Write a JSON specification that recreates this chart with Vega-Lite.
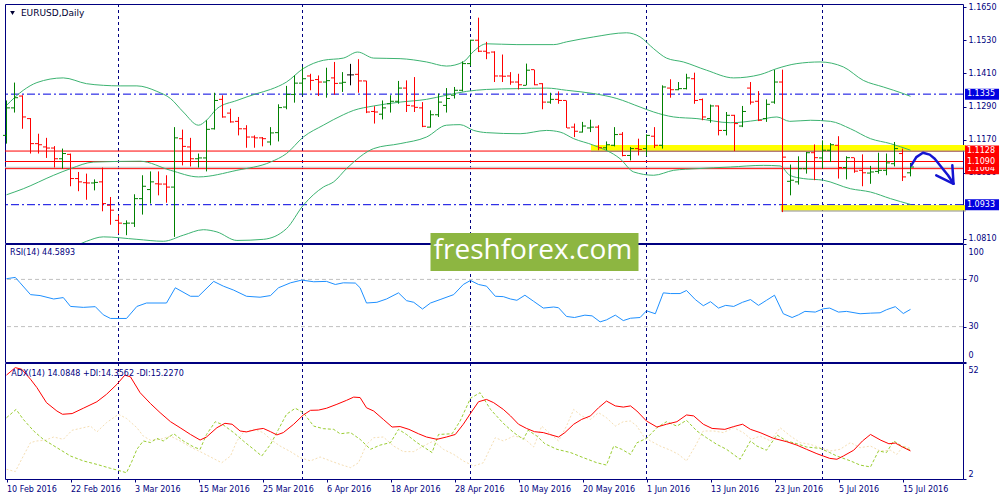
{
  "$schema": "https://vega.github.io/schema/vega-lite/v6.json",
  "description": "EURUSD daily bars with Bollinger bands, RSI(14) and ADX(14) panels.",
  "background": "white",
  "padding": {"left": 2, "top": 2, "right": 0, "bottom": 0},
  "bounds": "flush",
  "spacing": 1,
  "config": {
    "view": {"stroke": "#000080", "strokeWidth": 1},
    "axis": {"labelFont": "DejaVu Sans", "labelFontSize": 8, "labelColor": "#000080", "tickColor": "#000080", "tickSize": 3, "labelPadding": 2, "labelOverlap": false, "labelFlush": false, "labelBound": false, "domain": false, "grid": false},
    "text": {"font": "DejaVu Sans"}
  },
  "datasets": {
    "bars": [
      {"d": "2016-02-10", "i": 0, "o": 1.1185, "h": 1.1312, "l": 1.1155, "c": 1.1285},
      {"d": "2016-02-11", "i": 1, "o": 1.1285, "h": 1.1377, "l": 1.1268, "c": 1.1322},
      {"d": "2016-02-12", "i": 2, "o": 1.1328, "h": 1.1331, "l": 1.1209, "c": 1.1252},
      {"d": "2016-02-15", "i": 3, "o": 1.1246, "h": 1.1248, "l": 1.1119, "c": 1.1155},
      {"d": "2016-02-16", "i": 4, "o": 1.1155, "h": 1.1191, "l": 1.1119, "c": 1.1151},
      {"d": "2016-02-17", "i": 5, "o": 1.1143, "h": 1.1176, "l": 1.1103, "c": 1.1139},
      {"d": "2016-02-18", "i": 6, "o": 1.1139, "h": 1.1146, "l": 1.1068, "c": 1.1100},
      {"d": "2016-02-19", "i": 7, "o": 1.1100, "h": 1.1137, "l": 1.1064, "c": 1.1119},
      {"d": "2016-02-22", "i": 8, "o": 1.1116, "h": 1.1119, "l": 1.1000, "c": 1.1028},
      {"d": "2016-02-23", "i": 9, "o": 1.1028, "h": 1.1052, "l": 1.0982, "c": 1.1016},
      {"d": "2016-02-24", "i": 10, "o": 1.1013, "h": 1.1046, "l": 1.0951, "c": 1.1012},
      {"d": "2016-02-25", "i": 11, "o": 1.1012, "h": 1.1025, "l": 1.0985, "c": 1.1014},
      {"d": "2016-02-26", "i": 12, "o": 1.1016, "h": 1.1068, "l": 1.0909, "c": 1.0937},
      {"d": "2016-02-29", "i": 13, "o": 1.0931, "h": 1.0961, "l": 1.0860, "c": 1.0913},
      {"d": "2016-03-01", "i": 14, "o": 1.0876, "h": 1.0894, "l": 1.0828, "c": 1.0866},
      {"d": "2016-03-02", "i": 15, "o": 1.0864, "h": 1.0876, "l": 1.0822, "c": 1.0866},
      {"d": "2016-03-03", "i": 16, "o": 1.0866, "h": 1.0971, "l": 1.0852, "c": 1.0955},
      {"d": "2016-03-04", "i": 17, "o": 1.0955, "h": 1.1040, "l": 1.0897, "c": 1.1000},
      {"d": "2016-03-07", "i": 18, "o": 1.0988, "h": 1.1054, "l": 1.0937, "c": 1.1016},
      {"d": "2016-03-08", "i": 19, "o": 1.1009, "h": 1.1054, "l": 1.0967, "c": 1.1008},
      {"d": "2016-03-09", "i": 20, "o": 1.1008, "h": 1.1040, "l": 1.0940, "c": 1.0997},
      {"d": "2016-03-10", "i": 21, "o": 1.0997, "h": 1.1215, "l": 1.0816, "c": 1.1176},
      {"d": "2016-03-11", "i": 22, "o": 1.1173, "h": 1.1206, "l": 1.1076, "c": 1.1145},
      {"d": "2016-03-14", "i": 23, "o": 1.1143, "h": 1.1176, "l": 1.1072, "c": 1.1100},
      {"d": "2016-03-15", "i": 24, "o": 1.1100, "h": 1.1119, "l": 1.1068, "c": 1.1103},
      {"d": "2016-03-16", "i": 25, "o": 1.1103, "h": 1.1240, "l": 1.1054, "c": 1.1207},
      {"d": "2016-03-17", "i": 26, "o": 1.1209, "h": 1.1340, "l": 1.1206, "c": 1.1312},
      {"d": "2016-03-18", "i": 27, "o": 1.1316, "h": 1.1331, "l": 1.1249, "c": 1.1252},
      {"d": "2016-03-21", "i": 28, "o": 1.1266, "h": 1.1282, "l": 1.1231, "c": 1.1234},
      {"d": "2016-03-22", "i": 29, "o": 1.1236, "h": 1.1252, "l": 1.1185, "c": 1.1209},
      {"d": "2016-03-23", "i": 30, "o": 1.1209, "h": 1.1222, "l": 1.1140, "c": 1.1179},
      {"d": "2016-03-24", "i": 31, "o": 1.1179, "h": 1.1185, "l": 1.1140, "c": 1.1176},
      {"d": "2016-03-25", "i": 32, "o": 1.1176, "h": 1.1179, "l": 1.1145, "c": 1.1173},
      {"d": "2016-03-28", "i": 33, "o": 1.1161, "h": 1.1215, "l": 1.1149, "c": 1.1194},
      {"d": "2016-03-29", "i": 34, "o": 1.1195, "h": 1.1298, "l": 1.1163, "c": 1.1286},
      {"d": "2016-03-30", "i": 35, "o": 1.1288, "h": 1.1365, "l": 1.1280, "c": 1.1334},
      {"d": "2016-03-31", "i": 36, "o": 1.1334, "h": 1.1403, "l": 1.1304, "c": 1.1375},
      {"d": "2016-04-01", "i": 37, "o": 1.1375, "h": 1.1434, "l": 1.1331, "c": 1.1391},
      {"d": "2016-04-04", "i": 38, "o": 1.1401, "h": 1.1409, "l": 1.1349, "c": 1.1385},
      {"d": "2016-04-05", "i": 39, "o": 1.1388, "h": 1.1403, "l": 1.1328, "c": 1.1379},
      {"d": "2016-04-06", "i": 40, "o": 1.1379, "h": 1.1431, "l": 1.1322, "c": 1.1384},
      {"d": "2016-04-07", "i": 41, "o": 1.1394, "h": 1.1452, "l": 1.1333, "c": 1.1374},
      {"d": "2016-04-08", "i": 42, "o": 1.1375, "h": 1.1415, "l": 1.1343, "c": 1.1378},
      {"d": "2016-04-11", "i": 43, "o": 1.1405, "h": 1.1445, "l": 1.1367, "c": 1.1405},
      {"d": "2016-04-12", "i": 44, "o": 1.1407, "h": 1.1462, "l": 1.1340, "c": 1.1383},
      {"d": "2016-04-13", "i": 45, "o": 1.1383, "h": 1.1384, "l": 1.1266, "c": 1.1270},
      {"d": "2016-04-14", "i": 46, "o": 1.1272, "h": 1.1291, "l": 1.1228, "c": 1.1270},
      {"d": "2016-04-15", "i": 47, "o": 1.1262, "h": 1.1312, "l": 1.1243, "c": 1.1285},
      {"d": "2016-04-18", "i": 48, "o": 1.1300, "h": 1.1331, "l": 1.1268, "c": 1.1309},
      {"d": "2016-04-19", "i": 49, "o": 1.1309, "h": 1.1383, "l": 1.1300, "c": 1.1357},
      {"d": "2016-04-20", "i": 50, "o": 1.1357, "h": 1.1385, "l": 1.1270, "c": 1.1294},
      {"d": "2016-04-21", "i": 51, "o": 1.1292, "h": 1.1397, "l": 1.1270, "c": 1.1287},
      {"d": "2016-04-22", "i": 52, "o": 1.1285, "h": 1.1306, "l": 1.1215, "c": 1.1218},
      {"d": "2016-04-25", "i": 53, "o": 1.1215, "h": 1.1276, "l": 1.1213, "c": 1.1260},
      {"d": "2016-04-26", "i": 54, "o": 1.1260, "h": 1.1337, "l": 1.1252, "c": 1.1306},
      {"d": "2016-04-27", "i": 55, "o": 1.1294, "h": 1.1357, "l": 1.1268, "c": 1.1319},
      {"d": "2016-04-28", "i": 56, "o": 1.1331, "h": 1.1361, "l": 1.1319, "c": 1.1349},
      {"d": "2016-04-29", "i": 57, "o": 1.1349, "h": 1.1454, "l": 1.1345, "c": 1.1446},
      {"d": "2016-05-02", "i": 58, "o": 1.1446, "h": 1.1533, "l": 1.1437, "c": 1.1531},
      {"d": "2016-05-03", "i": 59, "o": 1.1531, "h": 1.1613, "l": 1.1488, "c": 1.1491},
      {"d": "2016-05-04", "i": 60, "o": 1.1491, "h": 1.1525, "l": 1.1462, "c": 1.1485},
      {"d": "2016-05-05", "i": 61, "o": 1.1488, "h": 1.1491, "l": 1.1379, "c": 1.1401},
      {"d": "2016-05-06", "i": 62, "o": 1.1401, "h": 1.1479, "l": 1.1379, "c": 1.1400},
      {"d": "2016-05-09", "i": 63, "o": 1.1401, "h": 1.1415, "l": 1.1369, "c": 1.1379},
      {"d": "2016-05-10", "i": 64, "o": 1.1379, "h": 1.1409, "l": 1.1352, "c": 1.1369},
      {"d": "2016-05-11", "i": 65, "o": 1.1367, "h": 1.1446, "l": 1.1367, "c": 1.1422},
      {"d": "2016-05-12", "i": 66, "o": 1.1424, "h": 1.1424, "l": 1.1367, "c": 1.1369},
      {"d": "2016-05-13", "i": 67, "o": 1.1373, "h": 1.1375, "l": 1.1280, "c": 1.1306},
      {"d": "2016-05-16", "i": 68, "o": 1.1306, "h": 1.1340, "l": 1.1300, "c": 1.1316},
      {"d": "2016-05-17", "i": 69, "o": 1.1316, "h": 1.1345, "l": 1.1300, "c": 1.1312},
      {"d": "2016-05-18", "i": 70, "o": 1.1312, "h": 1.1312, "l": 1.1212, "c": 1.1212},
      {"d": "2016-05-19", "i": 71, "o": 1.1215, "h": 1.1228, "l": 1.1179, "c": 1.1200},
      {"d": "2016-05-20", "i": 72, "o": 1.1197, "h": 1.1234, "l": 1.1195, "c": 1.1219},
      {"d": "2016-05-23", "i": 73, "o": 1.1212, "h": 1.1242, "l": 1.1197, "c": 1.1215},
      {"d": "2016-05-24", "i": 74, "o": 1.1215, "h": 1.1222, "l": 1.1131, "c": 1.1140},
      {"d": "2016-05-25", "i": 75, "o": 1.1140, "h": 1.1163, "l": 1.1131, "c": 1.1151},
      {"d": "2016-05-26", "i": 76, "o": 1.1149, "h": 1.1215, "l": 1.1145, "c": 1.1188},
      {"d": "2016-05-27", "i": 77, "o": 1.1189, "h": 1.1197, "l": 1.1109, "c": 1.1112},
      {"d": "2016-05-30", "i": 78, "o": 1.1112, "h": 1.1143, "l": 1.1094, "c": 1.1137},
      {"d": "2016-05-31", "i": 79, "o": 1.1137, "h": 1.1173, "l": 1.1112, "c": 1.1134},
      {"d": "2016-06-01", "i": 80, "o": 1.1137, "h": 1.1189, "l": 1.1110, "c": 1.1185},
      {"d": "2016-06-02", "i": 81, "o": 1.1182, "h": 1.1215, "l": 1.1139, "c": 1.1149},
      {"d": "2016-06-03", "i": 82, "o": 1.1149, "h": 1.1367, "l": 1.1137, "c": 1.1361},
      {"d": "2016-06-06", "i": 83, "o": 1.1357, "h": 1.1389, "l": 1.1322, "c": 1.1351},
      {"d": "2016-06-07", "i": 84, "o": 1.1351, "h": 1.1379, "l": 1.1349, "c": 1.1355},
      {"d": "2016-06-08", "i": 85, "o": 1.1355, "h": 1.1409, "l": 1.1352, "c": 1.1394},
      {"d": "2016-06-09", "i": 86, "o": 1.1391, "h": 1.1413, "l": 1.1300, "c": 1.1312},
      {"d": "2016-06-10", "i": 87, "o": 1.1315, "h": 1.1319, "l": 1.1240, "c": 1.1252},
      {"d": "2016-06-13", "i": 88, "o": 1.1246, "h": 1.1297, "l": 1.1231, "c": 1.1292},
      {"d": "2016-06-14", "i": 89, "o": 1.1292, "h": 1.1294, "l": 1.1185, "c": 1.1203},
      {"d": "2016-06-15", "i": 90, "o": 1.1203, "h": 1.1270, "l": 1.1185, "c": 1.1258},
      {"d": "2016-06-16", "i": 91, "o": 1.1258, "h": 1.1260, "l": 1.1128, "c": 1.1228},
      {"d": "2016-06-17", "i": 92, "o": 1.1219, "h": 1.1292, "l": 1.1215, "c": 1.1272},
      {"d": "2016-06-20", "i": 93, "o": 1.1357, "h": 1.1379, "l": 1.1297, "c": 1.1306},
      {"d": "2016-06-21", "i": 94, "o": 1.1309, "h": 1.1346, "l": 1.1237, "c": 1.1240},
      {"d": "2016-06-22", "i": 95, "o": 1.1246, "h": 1.1316, "l": 1.1234, "c": 1.1298},
      {"d": "2016-06-23", "i": 96, "o": 1.1306, "h": 1.1423, "l": 1.1300, "c": 1.1379},
      {"d": "2016-06-24", "i": 97, "o": 1.1379, "h": 1.1424, "l": 1.0906, "c": 1.1106},
      {"d": "2016-06-27", "i": 98, "o": 1.1018, "h": 1.1079, "l": 1.0967, "c": 1.1022},
      {"d": "2016-06-28", "i": 99, "o": 1.1016, "h": 1.1109, "l": 1.1006, "c": 1.1064},
      {"d": "2016-06-29", "i": 100, "o": 1.1064, "h": 1.1125, "l": 1.1046, "c": 1.1122},
      {"d": "2016-06-30", "i": 101, "o": 1.1122, "h": 1.1152, "l": 1.1022, "c": 1.1104},
      {"d": "2016-07-01", "i": 102, "o": 1.1103, "h": 1.1167, "l": 1.1064, "c": 1.1131},
      {"d": "2016-07-04", "i": 103, "o": 1.1131, "h": 1.1157, "l": 1.1088, "c": 1.1151},
      {"d": "2016-07-05", "i": 104, "o": 1.1149, "h": 1.1182, "l": 1.1028, "c": 1.1068},
      {"d": "2016-07-06", "i": 105, "o": 1.1068, "h": 1.1109, "l": 1.1025, "c": 1.1104},
      {"d": "2016-07-07", "i": 106, "o": 1.1104, "h": 1.1104, "l": 1.1049, "c": 1.1055},
      {"d": "2016-07-08", "i": 107, "o": 1.1058, "h": 1.1116, "l": 1.1000, "c": 1.1049},
      {"d": "2016-07-11", "i": 108, "o": 1.1048, "h": 1.1074, "l": 1.1009, "c": 1.1052},
      {"d": "2016-07-12", "i": 109, "o": 1.1054, "h": 1.1122, "l": 1.1046, "c": 1.1058},
      {"d": "2016-07-13", "i": 110, "o": 1.1058, "h": 1.1119, "l": 1.1040, "c": 1.1085},
      {"d": "2016-07-14", "i": 111, "o": 1.1082, "h": 1.1161, "l": 1.1072, "c": 1.1137},
      {"d": "2016-07-15", "i": 112, "o": 1.1119, "h": 1.1137, "l": 1.1019, "c": 1.1034},
      {"d": "2016-07-18", "i": 113, "o": 1.1049, "h": 1.1085, "l": 1.1036, "c": 1.1070}
    ],
    "bands": [
      {"band": "upper", "i": 0, "p": 1.1294}, {"band": "upper", "i": 2.1, "p": 1.1349}, {"band": "upper", "i": 3.8, "p": 1.1377},
      {"band": "upper", "i": 7.1, "p": 1.1394}, {"band": "upper", "i": 10, "p": 1.1373}, {"band": "upper", "i": 12.1, "p": 1.1367},
      {"band": "upper", "i": 14.2, "p": 1.1365}, {"band": "upper", "i": 16.3, "p": 1.1365}, {"band": "upper", "i": 18.8, "p": 1.1345},
      {"band": "upper", "i": 20.5, "p": 1.1319}, {"band": "upper", "i": 22.1, "p": 1.127}, {"band": "upper", "i": 24, "p": 1.1222},
      {"band": "upper", "i": 25, "p": 1.124}, {"band": "upper", "i": 26.3, "p": 1.1282}, {"band": "upper", "i": 28.8, "p": 1.1312},
      {"band": "upper", "i": 31.3, "p": 1.1337}, {"band": "upper", "i": 33, "p": 1.1352}, {"band": "upper", "i": 35, "p": 1.1379},
      {"band": "upper", "i": 37.1, "p": 1.1428}, {"band": "upper", "i": 39.6, "p": 1.1458}, {"band": "upper", "i": 42.1, "p": 1.1466},
      {"band": "upper", "i": 43.9, "p": 1.1488}, {"band": "upper", "i": 45.9, "p": 1.1466}, {"band": "upper", "i": 49.2, "p": 1.1464},
      {"band": "upper", "i": 52.5, "p": 1.1452}, {"band": "upper", "i": 55, "p": 1.1437}, {"band": "upper", "i": 57.1, "p": 1.1452},
      {"band": "upper", "i": 58.4, "p": 1.1491}, {"band": "upper", "i": 60, "p": 1.1518}, {"band": "upper", "i": 63.8, "p": 1.1515},
      {"band": "upper", "i": 68.4, "p": 1.1515}, {"band": "upper", "i": 70, "p": 1.1525}, {"band": "upper", "i": 73.4, "p": 1.1543},
      {"band": "upper", "i": 77.5, "p": 1.1558}, {"band": "upper", "i": 79.2, "p": 1.1543}, {"band": "upper", "i": 80.9, "p": 1.15},
      {"band": "upper", "i": 82.5, "p": 1.1466}, {"band": "upper", "i": 84.6, "p": 1.1452}, {"band": "upper", "i": 87.5, "p": 1.1422},
      {"band": "upper", "i": 90.9, "p": 1.1394}, {"band": "upper", "i": 94.2, "p": 1.1406}, {"band": "upper", "i": 96.3, "p": 1.1428},
      {"band": "upper", "i": 98.8, "p": 1.1446}, {"band": "upper", "i": 101.7, "p": 1.1452}, {"band": "upper", "i": 104.6, "p": 1.1434},
      {"band": "upper", "i": 107.1, "p": 1.1385}, {"band": "upper", "i": 109.6, "p": 1.1361}, {"band": "upper", "i": 112.1, "p": 1.1337},
      {"band": "upper", "i": 113, "p": 1.1327},
      {"band": "middle", "i": 0, "p": 1.0969}, {"band": "middle", "i": 2.1, "p": 1.0991}, {"band": "middle", "i": 5.9, "p": 1.104},
      {"band": "middle", "i": 8, "p": 1.1064}, {"band": "middle", "i": 10.9, "p": 1.1088}, {"band": "middle", "i": 16.7, "p": 1.1091},
      {"band": "middle", "i": 20.5, "p": 1.1058}, {"band": "middle", "i": 24, "p": 1.1034}, {"band": "middle", "i": 28.8, "p": 1.1058},
      {"band": "middle", "i": 33, "p": 1.1088}, {"band": "middle", "i": 35, "p": 1.1119}, {"band": "middle", "i": 37.1, "p": 1.1179},
      {"band": "middle", "i": 39.6, "p": 1.1222}, {"band": "middle", "i": 42.1, "p": 1.126}, {"band": "middle", "i": 43.4, "p": 1.1276},
      {"band": "middle", "i": 45.9, "p": 1.1292}, {"band": "middle", "i": 49.2, "p": 1.1306}, {"band": "middle", "i": 52.5, "p": 1.1316},
      {"band": "middle", "i": 55, "p": 1.1331}, {"band": "middle", "i": 57.5, "p": 1.1345}, {"band": "middle", "i": 60, "p": 1.1352},
      {"band": "middle", "i": 63.8, "p": 1.1355}, {"band": "middle", "i": 67.5, "p": 1.1357}, {"band": "middle", "i": 70, "p": 1.1349},
      {"band": "middle", "i": 73.4, "p": 1.1337}, {"band": "middle", "i": 76.3, "p": 1.1319}, {"band": "middle", "i": 79.2, "p": 1.1288},
      {"band": "middle", "i": 80.9, "p": 1.127}, {"band": "middle", "i": 83.4, "p": 1.1252}, {"band": "middle", "i": 86.3, "p": 1.1246},
      {"band": "middle", "i": 90.5, "p": 1.1231}, {"band": "middle", "i": 93.8, "p": 1.124}, {"band": "middle", "i": 96.3, "p": 1.1252},
      {"band": "middle", "i": 97.9, "p": 1.1236}, {"band": "middle", "i": 100.5, "p": 1.124}, {"band": "middle", "i": 103, "p": 1.1236},
      {"band": "middle", "i": 105.5, "p": 1.1209}, {"band": "middle", "i": 108, "p": 1.1173}, {"band": "middle", "i": 110.5, "p": 1.1155},
      {"band": "middle", "i": 113, "p": 1.1131},
      {"band": "lower", "i": 0, "p": 1.07}, {"band": "lower", "i": 4, "p": 1.073}, {"band": "lower", "i": 8, "p": 1.0775},
      {"band": "lower", "i": 10, "p": 1.08}, {"band": "lower", "i": 12.1, "p": 1.0816}, {"band": "lower", "i": 16.3, "p": 1.0807},
      {"band": "lower", "i": 19.6, "p": 1.08}, {"band": "lower", "i": 22.1, "p": 1.0822}, {"band": "lower", "i": 24.6, "p": 1.0842},
      {"band": "lower", "i": 26.3, "p": 1.0834}, {"band": "lower", "i": 28.8, "p": 1.0803}, {"band": "lower", "i": 32.1, "p": 1.0807},
      {"band": "lower", "i": 35, "p": 1.0846}, {"band": "lower", "i": 37.1, "p": 1.0931}, {"band": "lower", "i": 39.6, "p": 1.0997},
      {"band": "lower", "i": 40.9, "p": 1.1016}, {"band": "lower", "i": 42.5, "p": 1.1064}, {"band": "lower", "i": 45.9, "p": 1.1137},
      {"band": "lower", "i": 49.2, "p": 1.1155}, {"band": "lower", "i": 52.5, "p": 1.1179}, {"band": "lower", "i": 55, "p": 1.1222},
      {"band": "lower", "i": 56.7, "p": 1.1224}, {"band": "lower", "i": 58.4, "p": 1.1203}, {"band": "lower", "i": 60, "p": 1.1195},
      {"band": "lower", "i": 64.2, "p": 1.1191}, {"band": "lower", "i": 67.5, "p": 1.1203}, {"band": "lower", "i": 69.2, "p": 1.1197},
      {"band": "lower", "i": 70.9, "p": 1.1173}, {"band": "lower", "i": 73.4, "p": 1.1149}, {"band": "lower", "i": 76.7, "p": 1.11},
      {"band": "lower", "i": 78.4, "p": 1.1052}, {"band": "lower", "i": 80.9, "p": 1.104}, {"band": "lower", "i": 83.4, "p": 1.1058},
      {"band": "lower", "i": 86.3, "p": 1.1064}, {"band": "lower", "i": 90.5, "p": 1.107}, {"band": "lower", "i": 94.6, "p": 1.1076},
      {"band": "lower", "i": 96.7, "p": 1.1074}, {"band": "lower", "i": 97.9, "p": 1.104}, {"band": "lower", "i": 99.6, "p": 1.1028},
      {"band": "lower", "i": 102.1, "p": 1.1022}, {"band": "lower", "i": 105.5, "p": 1.0991}, {"band": "lower", "i": 108, "p": 1.0979},
      {"band": "lower", "i": 110.5, "p": 1.0955}, {"band": "lower", "i": 113, "p": 1.0934}
    ],
    "rsi": [
      {"i": 0, "v": 70.6}, {"i": 1.1, "v": 71.7}, {"i": 1.7, "v": 67.1}, {"i": 3, "v": 57.1}, {"i": 4.2, "v": 56.3}, {"i": 5.9, "v": 53.4},
      {"i": 7.1, "v": 54.6}, {"i": 8, "v": 47.1}, {"i": 9.6, "v": 46.3}, {"i": 11.1, "v": 46.9}, {"i": 12.1, "v": 40}, {"i": 13, "v": 36.9},
      {"i": 15, "v": 36.9}, {"i": 16.3, "v": 47.1}, {"i": 17.5, "v": 50}, {"i": 20, "v": 50}, {"i": 21.1, "v": 62.9}, {"i": 23, "v": 55.7},
      {"i": 24, "v": 55.7}, {"i": 25.9, "v": 68.3}, {"i": 27.1, "v": 64.3}, {"i": 28.4, "v": 60.9}, {"i": 30, "v": 55.7}, {"i": 31.7, "v": 54.9},
      {"i": 33, "v": 56.3}, {"i": 34, "v": 62.9}, {"i": 35.5, "v": 67.1}, {"i": 36.9, "v": 69.4}, {"i": 38.4, "v": 68}, {"i": 40, "v": 68.3},
      {"i": 41.1, "v": 65.7}, {"i": 42.1, "v": 67.1}, {"i": 43.6, "v": 66.9}, {"i": 44.2, "v": 62.9}, {"i": 45, "v": 50}, {"i": 46.3, "v": 50.6},
      {"i": 47.5, "v": 53.4}, {"i": 49, "v": 58.6}, {"i": 50, "v": 52}, {"i": 50.9, "v": 50.6}, {"i": 52, "v": 44.9}, {"i": 53, "v": 50},
      {"i": 54.2, "v": 52.9}, {"i": 55.9, "v": 57.1}, {"i": 57.1, "v": 65.7}, {"i": 58, "v": 69.1}, {"i": 59, "v": 65.7}, {"i": 60, "v": 64.3},
      {"i": 61.1, "v": 55.7}, {"i": 62.1, "v": 55.4}, {"i": 63, "v": 53.4}, {"i": 63.8, "v": 52.3}, {"i": 64.8, "v": 56.6}, {"i": 65.9, "v": 51.4},
      {"i": 67.1, "v": 45.7}, {"i": 68.4, "v": 46.6}, {"i": 69, "v": 46}, {"i": 70, "v": 38.6}, {"i": 71, "v": 37.7}, {"i": 72.3, "v": 39.7},
      {"i": 73.2, "v": 39.1}, {"i": 74.2, "v": 34}, {"i": 75, "v": 35.7}, {"i": 76.1, "v": 39.7}, {"i": 77.1, "v": 35.1}, {"i": 78, "v": 37.1},
      {"i": 79.2, "v": 37.7}, {"i": 80, "v": 43.4}, {"i": 81.1, "v": 40.9}, {"i": 82.1, "v": 58.6}, {"i": 83, "v": 58}, {"i": 84.2, "v": 58},
      {"i": 85, "v": 60.6}, {"i": 86.1, "v": 52.9}, {"i": 87.1, "v": 47.7}, {"i": 88, "v": 51.1}, {"i": 89, "v": 45.7}, {"i": 89.9, "v": 48},
      {"i": 90.9, "v": 47.1}, {"i": 92, "v": 50.6}, {"i": 93, "v": 52.9}, {"i": 94, "v": 48}, {"i": 95, "v": 52.3}, {"i": 96, "v": 56.6},
      {"i": 97.1, "v": 40.9}, {"i": 98.2, "v": 37.7}, {"i": 99, "v": 40}, {"i": 99.8, "v": 42.9}, {"i": 101.1, "v": 42.3}, {"i": 102.1, "v": 45.1},
      {"i": 102.9, "v": 45.7}, {"i": 104, "v": 42.3}, {"i": 105, "v": 42.9}, {"i": 106.7, "v": 40.9}, {"i": 108, "v": 41.4}, {"i": 109.2, "v": 41.7},
      {"i": 110, "v": 44.3}, {"i": 111.1, "v": 46.9}, {"i": 112.1, "v": 41.1}, {"i": 113, "v": 44.6}
    ],
    "adx": [
      {"i": 0, "v": 46.8}, {"i": 1.1, "v": 50}, {"i": 1.9, "v": 49.3}, {"i": 3, "v": 45}, {"i": 3.8, "v": 41.4}, {"i": 5, "v": 34.9},
      {"i": 6.3, "v": 31.3}, {"i": 7, "v": 29.9}, {"i": 8.2, "v": 30.2}, {"i": 9.6, "v": 32.5}, {"i": 11.3, "v": 35.3}, {"i": 12.5, "v": 38.5},
      {"i": 13.8, "v": 42.8}, {"i": 14.8, "v": 46.8}, {"i": 15.5, "v": 46}, {"i": 16.7, "v": 39.2}, {"i": 18, "v": 34.5}, {"i": 19.2, "v": 30.6},
      {"i": 20.5, "v": 26.7}, {"i": 21.7, "v": 24.1}, {"i": 23, "v": 21.2}, {"i": 24.2, "v": 18.8}, {"i": 25, "v": 20.1}, {"i": 26.3, "v": 24.1},
      {"i": 27.3, "v": 26}, {"i": 28.2, "v": 25.6}, {"i": 29.2, "v": 22.7}, {"i": 30, "v": 22.3}, {"i": 31.3, "v": 23.4}, {"i": 32.1, "v": 23.8},
      {"i": 33, "v": 22.4}, {"i": 33.8, "v": 21}, {"i": 34.6, "v": 22}, {"i": 35.9, "v": 25.6}, {"i": 37.1, "v": 29.6}, {"i": 38, "v": 31.6},
      {"i": 39, "v": 31.7}, {"i": 40, "v": 32.5}, {"i": 41.3, "v": 34.2}, {"i": 42.5, "v": 35.9}, {"i": 43.4, "v": 37.3}, {"i": 44.2, "v": 37.1},
      {"i": 45, "v": 32.7}, {"i": 45.9, "v": 31.3}, {"i": 47.1, "v": 27.7}, {"i": 48.2, "v": 24.4}, {"i": 49.2, "v": 24.6}, {"i": 50.3, "v": 23.4},
      {"i": 51.5, "v": 21.5}, {"i": 52.5, "v": 20.1}, {"i": 53.8, "v": 19.1}, {"i": 55, "v": 20.1}, {"i": 56.1, "v": 21.2}, {"i": 57.1, "v": 25.6},
      {"i": 58.2, "v": 31.3}, {"i": 59, "v": 35.3}, {"i": 60, "v": 36.3}, {"i": 60.9, "v": 34.9}, {"i": 62.1, "v": 32}, {"i": 63, "v": 29.2},
      {"i": 64, "v": 25.6}, {"i": 65, "v": 23.8}, {"i": 66, "v": 22.4}, {"i": 67.1, "v": 22}, {"i": 67.9, "v": 21.2}, {"i": 69, "v": 20.1},
      {"i": 69.8, "v": 22}, {"i": 70.9, "v": 25.6}, {"i": 71.9, "v": 27.7}, {"i": 73, "v": 29.2}, {"i": 74, "v": 32.7}, {"i": 75, "v": 35.6},
      {"i": 76.1, "v": 33.5}, {"i": 77.1, "v": 33}, {"i": 78, "v": 33.5}, {"i": 78.8, "v": 31.3}, {"i": 80, "v": 27}, {"i": 81.3, "v": 24.4},
      {"i": 82.5, "v": 25.6}, {"i": 83.8, "v": 26.7}, {"i": 85, "v": 29.6}, {"i": 85.9, "v": 29.2}, {"i": 87.1, "v": 25.6}, {"i": 88.2, "v": 23.8},
      {"i": 89.8, "v": 23.4}, {"i": 90.9, "v": 24.6}, {"i": 92, "v": 25.6}, {"i": 93, "v": 23.4}, {"i": 94.2, "v": 22}, {"i": 95.9, "v": 19.5},
      {"i": 97.5, "v": 18.1}, {"i": 98.8, "v": 16.6}, {"i": 100, "v": 14.8}, {"i": 101.3, "v": 12.9}, {"i": 102.1, "v": 11.9}, {"i": 102.9, "v": 10.9},
      {"i": 103.8, "v": 10.5}, {"i": 104.6, "v": 11.9}, {"i": 105.9, "v": 14.4}, {"i": 107, "v": 18.4}, {"i": 108, "v": 21.2}, {"i": 109.3, "v": 18.7},
      {"i": 110.3, "v": 17.2}, {"i": 111.1, "v": 17.5}, {"i": 112, "v": 15.8}, {"i": 113, "v": 14.1}
    ],
    "pdi": [
      {"i": 0, "v": 28.4}, {"i": 1.2, "v": 32}, {"i": 2.1, "v": 27.7}, {"i": 3.4, "v": 22.7}, {"i": 4.6, "v": 19.1}, {"i": 6.3, "v": 15.5},
      {"i": 8, "v": 11.9}, {"i": 9.6, "v": 9.8}, {"i": 11.3, "v": 8.3}, {"i": 13, "v": 6.6}, {"i": 14, "v": 5.7}, {"i": 15, "v": 4.7},
      {"i": 15.7, "v": 9.8}, {"i": 16.3, "v": 14.8}, {"i": 17.1, "v": 18.4}, {"i": 18, "v": 17.7}, {"i": 18.8, "v": 19.5}, {"i": 19.6, "v": 18.4},
      {"i": 20.9, "v": 21.5}, {"i": 22.1, "v": 18.4}, {"i": 23.4, "v": 15.8}, {"i": 24.2, "v": 14.8}, {"i": 25, "v": 21.2}, {"i": 26.1, "v": 26.7},
      {"i": 27.1, "v": 25.3}, {"i": 28.4, "v": 22}, {"i": 29.6, "v": 18.4}, {"i": 30.9, "v": 14.8}, {"i": 31.9, "v": 11.9}, {"i": 33, "v": 16.9},
      {"i": 34, "v": 23.4}, {"i": 35, "v": 29.9}, {"i": 36.1, "v": 32.5}, {"i": 37.1, "v": 30.6}, {"i": 38.4, "v": 24.8}, {"i": 39.6, "v": 23.7},
      {"i": 40.9, "v": 23.4}, {"i": 41.7, "v": 21.5}, {"i": 43, "v": 22}, {"i": 44.2, "v": 19.1}, {"i": 45.5, "v": 14.8}, {"i": 46.7, "v": 16.6},
      {"i": 48, "v": 17.7}, {"i": 49, "v": 23.4}, {"i": 50, "v": 21.2}, {"i": 51.3, "v": 17.7}, {"i": 53.2, "v": 13.4}, {"i": 54, "v": 21.2},
      {"i": 55.7, "v": 21.5}, {"i": 56.7, "v": 27}, {"i": 58, "v": 36.8}, {"i": 59.2, "v": 39.2}, {"i": 60.5, "v": 32}, {"i": 62.1, "v": 26},
      {"i": 63.4, "v": 22}, {"i": 64.6, "v": 19.1}, {"i": 65.2, "v": 23}, {"i": 66.3, "v": 20.5}, {"i": 67.3, "v": 17.2}, {"i": 68.8, "v": 14.8},
      {"i": 70.5, "v": 13.4}, {"i": 72.1, "v": 11.2}, {"i": 73.8, "v": 9}, {"i": 75, "v": 8}, {"i": 75.9, "v": 16.2}, {"i": 76.9, "v": 14.8},
      {"i": 78, "v": 12.6}, {"i": 78.8, "v": 17.6}, {"i": 80, "v": 19.5}, {"i": 81.3, "v": 24.1}, {"i": 82.5, "v": 26.7}, {"i": 83.8, "v": 24.8},
      {"i": 85, "v": 27.3}, {"i": 86.3, "v": 22.7}, {"i": 87.5, "v": 19.8}, {"i": 88.8, "v": 16.9}, {"i": 90, "v": 14.8}, {"i": 91.7, "v": 10.5},
      {"i": 93, "v": 18.4}, {"i": 93.8, "v": 16.2}, {"i": 95, "v": 14.4}, {"i": 96.3, "v": 21}, {"i": 97.5, "v": 18.4}, {"i": 98.8, "v": 17.2},
      {"i": 100, "v": 15.8}, {"i": 101.7, "v": 15.2}, {"i": 102.9, "v": 13.4}, {"i": 103.8, "v": 11.9}, {"i": 105.5, "v": 9.8}, {"i": 106.7, "v": 8},
      {"i": 108, "v": 7.2}, {"i": 109, "v": 14.1}, {"i": 110, "v": 13.4}, {"i": 110.9, "v": 18.4}, {"i": 111.9, "v": 16.2}, {"i": 113, "v": 14.4}
    ],
    "mdi": [
      {"i": 0, "v": 6.2}, {"i": 1.1, "v": 5.2}, {"i": 2.1, "v": 11.9}, {"i": 3, "v": 17.7}, {"i": 3.8, "v": 18.4}, {"i": 4.8, "v": 18.7},
      {"i": 5.9, "v": 20.1}, {"i": 7.1, "v": 19.1}, {"i": 8.2, "v": 23}, {"i": 9.6, "v": 24.1}, {"i": 10.5, "v": 24.8}, {"i": 11.3, "v": 22.3},
      {"i": 12.5, "v": 26.3}, {"i": 14, "v": 29.9}, {"i": 15, "v": 28.1}, {"i": 16.3, "v": 24.1}, {"i": 17.1, "v": 20.5}, {"i": 18, "v": 18.7},
      {"i": 19.2, "v": 19.1}, {"i": 20.5, "v": 20.5}, {"i": 21.7, "v": 18.4}, {"i": 23, "v": 15.8}, {"i": 24.2, "v": 13.8}, {"i": 25.5, "v": 11.5},
      {"i": 26.9, "v": 9}, {"i": 28, "v": 11.9}, {"i": 28.8, "v": 18.4}, {"i": 29.6, "v": 22}, {"i": 30.9, "v": 23.4}, {"i": 32.1, "v": 22},
      {"i": 33, "v": 19.1}, {"i": 34.2, "v": 16.2}, {"i": 35.5, "v": 13.8}, {"i": 36.7, "v": 11.2}, {"i": 38, "v": 9.8}, {"i": 39.2, "v": 11.5},
      {"i": 40.5, "v": 9.8}, {"i": 41.7, "v": 8.3}, {"i": 43, "v": 6.9}, {"i": 44, "v": 9}, {"i": 45, "v": 16.9}, {"i": 45.9, "v": 19.8},
      {"i": 47.1, "v": 20.1}, {"i": 48.4, "v": 16.2}, {"i": 49.6, "v": 13.8}, {"i": 50.9, "v": 13.8}, {"i": 52.1, "v": 16.2}, {"i": 53.4, "v": 18.4},
      {"i": 54.6, "v": 14.8}, {"i": 55.9, "v": 12.6}, {"i": 57.1, "v": 9.8}, {"i": 58.4, "v": 7.6}, {"i": 59.6, "v": 9}, {"i": 61.1, "v": 19.8},
      {"i": 62.1, "v": 18.4}, {"i": 63.4, "v": 20.5}, {"i": 64.6, "v": 19.8}, {"i": 65.9, "v": 15.8}, {"i": 66.9, "v": 24.8}, {"i": 67.8, "v": 22},
      {"i": 69, "v": 18.4}, {"i": 70, "v": 24.8}, {"i": 70.9, "v": 32}, {"i": 71.9, "v": 29.2}, {"i": 73, "v": 27.7}, {"i": 74, "v": 30.6},
      {"i": 75, "v": 28.4}, {"i": 76.1, "v": 24.8}, {"i": 77.1, "v": 26.7}, {"i": 78, "v": 27}, {"i": 78.8, "v": 24.8}, {"i": 79.6, "v": 20.5},
      {"i": 80.5, "v": 18.4}, {"i": 81.7, "v": 16.2}, {"i": 83, "v": 14.4}, {"i": 84, "v": 12.6}, {"i": 85, "v": 9.8}, {"i": 86.1, "v": 16.2},
      {"i": 87.1, "v": 22.7}, {"i": 88.4, "v": 22.7}, {"i": 89.6, "v": 22}, {"i": 90.9, "v": 24.1}, {"i": 92.1, "v": 22}, {"i": 93.1, "v": 19.1},
      {"i": 94.2, "v": 20.5}, {"i": 95.5, "v": 18.4}, {"i": 96.7, "v": 24.1}, {"i": 98, "v": 20.5}, {"i": 99.2, "v": 17.7}, {"i": 100.5, "v": 16.9},
      {"i": 101.7, "v": 15.5}, {"i": 103, "v": 14.1}, {"i": 104.2, "v": 14.8}, {"i": 105.5, "v": 17.7}, {"i": 106.7, "v": 15.5}, {"i": 108, "v": 16.2},
      {"i": 109.2, "v": 14.1}, {"i": 110.5, "v": 14.4}, {"i": 111.3, "v": 12.6}, {"i": 112.1, "v": 16.2}, {"i": 113, "v": 15.2}
    ],
    "months": [
      {"d": "2016-03-01", "i": 14}, {"d": "2016-04-01", "i": 37}, {"d": "2016-05-02", "i": 58}, {"d": "2016-06-01", "i": 80}, {"d": "2016-07-01", "i": 102}
    ],
    "levels": [
      {"p": 1.1069, "kind": "bid"},
      {"p": 1.1335, "kind": "blue"}, {"p": 1.0933, "kind": "blue"},
      {"p": 1.1128, "kind": "red"}, {"p": 1.109, "kind": "red"}, {"p": 1.1064, "kind": "red"}
    ],
    "zones": [
      {"i0": 73.06, "i1": 119.9, "lo": 1.113, "hi": 1.115},
      {"i0": 96.8, "i1": 119.9, "lo": 1.0913, "hi": 1.0931}
    ],
    "tags": [
      {"p": 1.1335, "kind": "blue"}, {"p": 1.0933, "kind": "blue"},
      {"p": 1.1128, "kind": "red"}, {"p": 1.1064, "kind": "red"}, {"p": 1.109, "kind": "red"}
    ],
    "arrow": [
      {"seg": "curve", "k": 0, "i": 113.1, "p": 1.1076}, {"seg": "curve", "k": 1, "i": 113.73, "p": 1.1106},
      {"seg": "curve", "k": 2, "i": 114.56, "p": 1.1122}, {"seg": "curve", "k": 3, "i": 115.4, "p": 1.1115},
      {"seg": "curve", "k": 4, "i": 116.03, "p": 1.11}, {"seg": "curve", "k": 5, "i": 116.85, "p": 1.107},
      {"seg": "curve", "k": 6, "i": 117.69, "p": 1.104}, {"seg": "curve", "k": 7, "i": 118.38, "p": 1.1009},
      {"seg": "head", "k": 0, "i": 118.23, "p": 1.1076}, {"seg": "head", "k": 1, "i": 118.38, "p": 1.1009},
      {"seg": "head", "k": 2, "i": 116.22, "p": 1.104}
    ],
    "rsiLevels": [{"v": 70}, {"v": 30}]
  },
  "vconcat": [
    {
      "width": 958,
      "height": 239,
      "layer": [
        {
          "data": {"name": "months"},
          "mark": {"type": "rule", "color": "#000080", "strokeDash": [3, 3]},
          "encoding": {
            "x": {"field": "i", "type": "quantitative", "scale": {"domain": [-0.1875, 119.5625], "nice": false, "zero": false}, "axis": null}
          }
        },
        {
          "data": {"name": "levels"},
          "mark": {"type": "rule", "strokeWidth": 1},
          "encoding": {
            "y": {
              "field": "p", "type": "quantitative", "title": null,
              "scale": {"domain": [1.07937, 1.16627], "nice": false, "zero": false},
              "axis": {"orient": "right", "values": [1.165, 1.153, 1.141, 1.129, 1.117, 1.105, 1.093, 1.081], "tickCount": 20, "format": ".4f", "title": null, "labelOverlap": false, "labelBound": false}
            },
            "color": {"field": "kind", "type": "nominal", "scale": {"domain": ["bid", "blue", "red"], "range": ["#C0C0C0", "#0000E0", "#FF0000"]}, "legend": null},
            "strokeDash": {"field": "kind", "type": "nominal", "scale": {"domain": ["bid", "blue", "red"], "range": [[1, 0], [8, 3, 2, 3], [1, 0]]}, "legend": null}
          }
        },
        {
          "data": {"name": "zones"},
          "mark": {"type": "rect", "color": "#808080", "opacity": 0.6, "yOffset": 1.5},
          "encoding": {
            "x": {"field": "i0", "type": "quantitative", "scale": {"domain": [-0.1875, 119.5625], "nice": false, "zero": false}, "axis": null},
            "x2": {"field": "i1"},
            "y": {"field": "lo", "type": "quantitative", "title": null, "scale": {"domain": [1.07937, 1.16627], "nice": false, "zero": false}},
            "y2": {"field": "hi"}
          }
        },
        {
          "data": {"name": "zones"},
          "mark": {"type": "rect", "color": "#FFFF00"},
          "encoding": {
            "x": {"field": "i0", "type": "quantitative", "scale": {"domain": [-0.1875, 119.5625], "nice": false, "zero": false}, "axis": null},
            "x2": {"field": "i1"},
            "y": {"field": "lo", "type": "quantitative", "title": null, "scale": {"domain": [1.07937, 1.16627], "nice": false, "zero": false}},
            "y2": {"field": "hi"}
          }
        },
        {
          "data": {"name": "bands"},
          "mark": {"type": "line", "color": "#3CB371", "strokeWidth": 1, "interpolate": "monotone", "clip": true},
          "encoding": {
            "x": {"field": "i", "type": "quantitative", "scale": {"domain": [-0.1875, 119.5625], "nice": false, "zero": false}, "axis": null},
            "y": {"field": "p", "type": "quantitative", "title": null, "scale": {"domain": [1.07937, 1.16627], "nice": false, "zero": false}},
            "detail": {"field": "band"}
          }
        },
        {
          "data": {"name": "bars"},
          "mark": {"type": "rule", "strokeWidth": 1},
          "encoding": {
            "x": {"field": "i", "type": "quantitative", "scale": {"domain": [-0.1875, 119.5625], "nice": false, "zero": false}, "axis": null},
            "y": {"field": "l", "type": "quantitative", "title": null, "scale": {"domain": [1.07937, 1.16627], "nice": false, "zero": false}},
            "y2": {"field": "h"},
            "color": {"condition": [{"test": "datum.c > datum.o", "value": "#008000"}, {"test": "datum.c == datum.o", "value": "#000000"}], "value": "#FF0000"}
          }
        },
        {
          "data": {"name": "bars"},
          "mark": {"type": "tick", "orient": "horizontal", "size": 3, "thickness": 1, "xOffset": -2, "opacity": 1},
          "encoding": {
            "x": {"field": "i", "type": "quantitative", "scale": {"domain": [-0.1875, 119.5625], "nice": false, "zero": false}, "axis": null},
            "y": {"field": "o", "type": "quantitative", "title": null, "scale": {"domain": [1.07937, 1.16627], "nice": false, "zero": false}},
            "color": {"condition": [{"test": "datum.c > datum.o", "value": "#008000"}, {"test": "datum.c == datum.o", "value": "#000000"}], "value": "#FF0000"}
          }
        },
        {
          "data": {"name": "bars"},
          "mark": {"type": "tick", "orient": "horizontal", "size": 3, "thickness": 1, "xOffset": 2, "opacity": 1},
          "encoding": {
            "x": {"field": "i", "type": "quantitative", "scale": {"domain": [-0.1875, 119.5625], "nice": false, "zero": false}, "axis": null},
            "y": {"field": "c", "type": "quantitative", "title": null, "scale": {"domain": [1.07937, 1.16627], "nice": false, "zero": false}},
            "color": {"condition": [{"test": "datum.c > datum.o", "value": "#008000"}, {"test": "datum.c == datum.o", "value": "#000000"}], "value": "#FF0000"}
          }
        },
        {
          "data": {"name": "arrow"},
          "mark": {"type": "line", "color": "#1414D2", "strokeWidth": 2.5, "strokeCap": "round", "strokeJoin": "round", "interpolate": "linear"},
          "encoding": {
            "x": {"field": "i", "type": "quantitative", "scale": {"domain": [-0.1875, 119.5625], "nice": false, "zero": false}, "axis": null},
            "y": {"field": "p", "type": "quantitative", "title": null, "scale": {"domain": [1.07937, 1.16627], "nice": false, "zero": false}},
            "detail": {"field": "seg"},
            "order": {"field": "k"}
          }
        },
        {
          "data": {"values": [{}]},
          "mark": {"type": "point", "shape": "triangle-down", "filled": true, "size": 22, "color": "#000033", "opacity": 1},
          "encoding": {
            "x": {"datum": 0.75, "type": "quantitative", "scale": {"domain": [-0.1875, 119.5625], "nice": false, "zero": false}, "axis": null},
            "y": {"datum": 1.163, "type": "quantitative", "title": null, "scale": {"domain": [1.07937, 1.16627], "nice": false, "zero": false}}
          }
        },
        {
          "data": {"values": [{}]},
          "mark": {"type": "text", "align": "left", "baseline": "middle", "fontSize": 9, "color": "#000033"},
          "encoding": {
            "x": {"datum": 1.8, "type": "quantitative", "scale": {"domain": [-0.1875, 119.5625], "nice": false, "zero": false}, "axis": null},
            "y": {"datum": 1.163, "type": "quantitative", "title": null, "scale": {"domain": [1.07937, 1.16627], "nice": false, "zero": false}},
            "text": {"value": "EURUSD,Daily"}
          }
        },
        {
          "data": {"name": "tags"},
          "transform": [{"filter": "datum.p != 1.109"}],
          "mark": {"type": "tick", "orient": "horizontal", "size": 34, "thickness": 11, "opacity": 1},
          "encoding": {
            "x": {"datum": 121.94, "type": "quantitative", "scale": {"domain": [-0.1875, 119.5625], "nice": false, "zero": false}, "axis": null},
            "y": {"field": "p", "type": "quantitative", "title": null, "scale": {"domain": [1.07937, 1.16627], "nice": false, "zero": false}},
            "color": {"field": "kind", "type": "nominal", "scale": {"domain": ["bid", "blue", "red"], "range": ["#C0C0C0", "#0000E0", "#FF0000"]}, "legend": null}
          }
        },
        {
          "data": {"name": "tags"},
          "transform": [{"filter": "datum.p != 1.109"}],
          "mark": {"type": "text", "align": "left", "baseline": "middle", "fontSize": 8, "color": "white"},
          "encoding": {
            "x": {"datum": 120.06, "type": "quantitative", "scale": {"domain": [-0.1875, 119.5625], "nice": false, "zero": false}, "axis": null},
            "y": {"field": "p", "type": "quantitative", "title": null, "scale": {"domain": [1.07937, 1.16627], "nice": false, "zero": false}},
            "text": {"field": "p", "type": "quantitative", "format": ".4f"}
          }
        },
        {
          "data": {"name": "tags"},
          "transform": [{"filter": "datum.p == 1.109"}],
          "mark": {"type": "tick", "orient": "horizontal", "size": 34, "thickness": 11, "opacity": 1, "color": "#FF0000"},
          "encoding": {
            "x": {"datum": 121.94, "type": "quantitative", "scale": {"domain": [-0.1875, 119.5625], "nice": false, "zero": false}, "axis": null},
            "y": {"field": "p", "type": "quantitative", "title": null, "scale": {"domain": [1.07937, 1.16627], "nice": false, "zero": false}}
          }
        },
        {
          "data": {"name": "tags"},
          "transform": [{"filter": "datum.p == 1.109"}],
          "mark": {"type": "text", "align": "left", "baseline": "middle", "fontSize": 8, "color": "white"},
          "encoding": {
            "x": {"datum": 120.06, "type": "quantitative", "scale": {"domain": [-0.1875, 119.5625], "nice": false, "zero": false}, "axis": null},
            "y": {"field": "p", "type": "quantitative", "title": null, "scale": {"domain": [1.07937, 1.16627], "nice": false, "zero": false}},
            "text": {"field": "p", "type": "quantitative", "format": ".4f"}
          }
        }
      ]
    },
    {
      "width": 958,
      "height": 118,
      "layer": [
        {
          "data": {"name": "months"},
          "mark": {"type": "rule", "color": "#000080", "strokeDash": [3, 3]},
          "encoding": {
            "x": {"field": "i", "type": "quantitative", "scale": {"domain": [-0.1875, 119.5625], "nice": false, "zero": false}, "axis": null}
          }
        },
        {
          "data": {"name": "rsiLevels"},
          "mark": {"type": "rule", "color": "#C0C0C0", "strokeDash": [4, 3]},
          "encoding": {
            "y": {
              "field": "v", "type": "quantitative", "title": null, "scale": {"domain": [0, 100], "nice": false},
              "axis": {
                "orient": "right", "values": [100, 70, 30, 0], "tickCount": 20, "title": null, "labelOverlap": false, "labelBound": false,
                "labelOffset": {"condition": [{"test": "datum.value == 100", "value": 8}, {"test": "datum.value == 0", "value": -7}], "value": 0}
              }
            }
          }
        },
        {
          "data": {"name": "rsi"},
          "mark": {"type": "line", "color": "#1E90FF", "strokeWidth": 1},
          "encoding": {
            "x": {"field": "i", "type": "quantitative", "scale": {"domain": [-0.1875, 119.5625], "nice": false, "zero": false}, "axis": null},
            "y": {"field": "v", "type": "quantitative", "title": null, "scale": {"domain": [0, 100], "nice": false}}
          }
        },
        {
          "data": {"values": [{}]},
          "mark": {"type": "text", "align": "left", "baseline": "middle", "fontSize": 8, "color": "#000080"},
          "encoding": {
            "x": {"datum": 0.45, "type": "quantitative", "scale": {"domain": [-0.1875, 119.5625], "nice": false, "zero": false}, "axis": null},
            "y": {"datum": 92.4, "type": "quantitative", "title": null, "scale": {"domain": [0, 100], "nice": false}},
            "text": {"value": "RSI(14) 44.5893"}
          }
        },
        {
          "data": {"values": [{}]},
          "mark": {"type": "rect", "color": "#8DB641", "clip": false},
          "encoding": {
            "x": {"datum": 53, "type": "quantitative", "scale": {"domain": [-0.1875, 119.5625], "nice": false, "zero": false}, "axis": null},
            "x2": {"datum": 79},
            "y": {"datum": 109.3, "type": "quantitative", "title": null, "scale": {"domain": [0, 100], "nice": false}},
            "y2": {"datum": 77.1}
          }
        },
        {
          "data": {"values": [{}]},
          "mark": {"type": "text", "align": "center", "baseline": "middle", "font": "Open Sans", "fontSize": 28, "color": "#FFFFFF"},
          "encoding": {
            "x": {"datum": 65.8, "type": "quantitative", "scale": {"domain": [-0.1875, 119.5625], "nice": false, "zero": false}, "axis": null},
            "y": {"datum": 94, "type": "quantitative", "title": null, "scale": {"domain": [0, 100], "nice": false}},
            "text": {"value": "freshforex.com"}
          }
        }
      ]
    },
    {
      "width": 958,
      "height": 116,
      "layer": [
        {
          "data": {"name": "months"},
          "mark": {"type": "rule", "color": "#000080", "strokeDash": [3, 3]},
          "encoding": {
            "x": {
              "field": "i", "type": "quantitative", "title": null,
              "scale": {"domain": [-0.1875, 119.5625], "nice": false, "zero": false},
              "axis": {
                "orient": "bottom", "title": null, "labelOverlap": false, "tickCount": 40,
                "values": [0, 8, 16, 24, 32, 40, 48, 56, 64, 72, 80, 88, 96, 104, 112],
                "labelExpr": "['10 Feb 2016','22 Feb 2016','3 Mar 2016','15 Mar 2016','25 Mar 2016','6 Apr 2016','18 Apr 2016','28 Apr 2016','10 May 2016','20 May 2016','1 Jun 2016','13 Jun 2016','23 Jun 2016','5 Jul 2016','15 Jul 2016'][round(datum.value / 8)]",
                "labelAlign": "left",
                "labelPadding": 3
              }
            }
          }
        },
        {
          "data": {"name": "mdi"},
          "mark": {"type": "line", "color": "#F5DEB3", "strokeWidth": 1, "strokeDash": [2, 2]},
          "encoding": {
            "x": {"field": "i", "type": "quantitative", "title": null, "scale": {"domain": [-0.1875, 119.5625], "nice": false, "zero": false}},
            "y": {
              "field": "v", "type": "quantitative", "title": null, "scale": {"domain": [2, 52], "nice": false, "zero": false},
              "axis": {
                "orient": "right", "values": [52, 2], "tickCount": 20, "title": null, "labelOverlap": false, "labelBound": false,
                "labelOffset": {"condition": [{"test": "datum.value == 52", "value": 7}, {"test": "datum.value == 2", "value": -5}], "value": 0}
              }
            }
          }
        },
        {
          "data": {"name": "pdi"},
          "mark": {"type": "line", "color": "#9ACD32", "strokeWidth": 1, "strokeDash": [3, 2]},
          "encoding": {
            "x": {"field": "i", "type": "quantitative", "title": null, "scale": {"domain": [-0.1875, 119.5625], "nice": false, "zero": false}},
            "y": {"field": "v", "type": "quantitative", "title": null, "scale": {"domain": [2, 52], "nice": false, "zero": false}}
          }
        },
        {
          "data": {"name": "adx"},
          "mark": {"type": "line", "color": "#FF0000", "strokeWidth": 1},
          "encoding": {
            "x": {"field": "i", "type": "quantitative", "title": null, "scale": {"domain": [-0.1875, 119.5625], "nice": false, "zero": false}},
            "y": {"field": "v", "type": "quantitative", "title": null, "scale": {"domain": [2, 52], "nice": false, "zero": false}}
          }
        },
        {
          "data": {"values": [{}]},
          "mark": {"type": "text", "align": "left", "baseline": "middle", "fontSize": 8, "color": "#000080"},
          "encoding": {
            "x": {"datum": 0.6, "type": "quantitative", "title": null, "scale": {"domain": [-0.1875, 119.5625], "nice": false, "zero": false}},
            "y": {"datum": 47.3, "type": "quantitative", "title": null, "scale": {"domain": [2, 52], "nice": false, "zero": false}},
            "text": {"value": "ADX(14) 14.0848 +DI:14.3562 -DI:15.2270"}
          }
        }
      ]
    }
  ]
}
